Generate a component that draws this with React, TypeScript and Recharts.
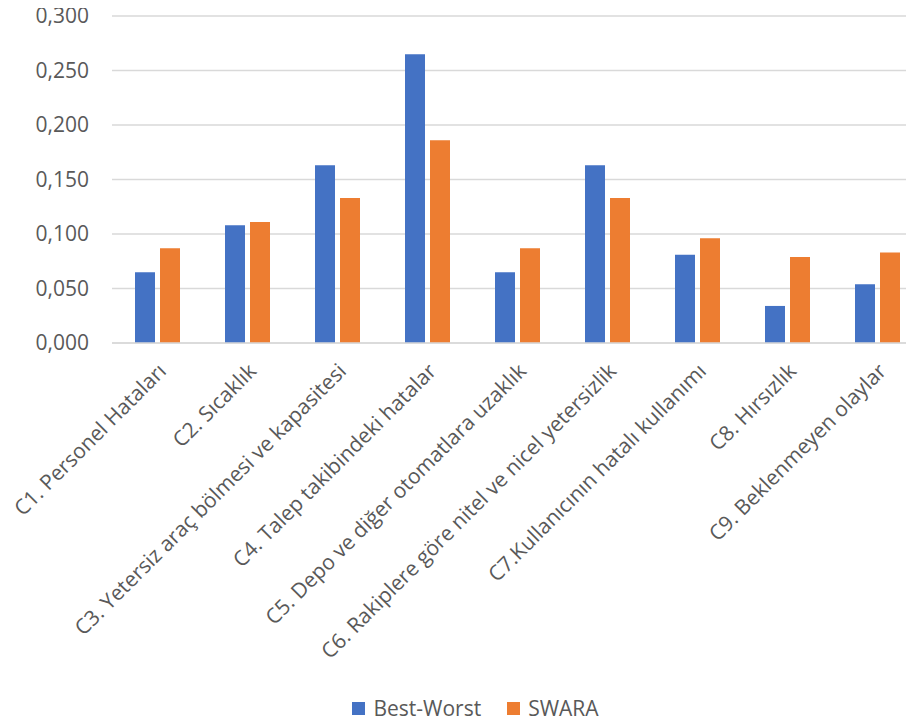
import { BarChart, Bar, XAxis, YAxis, CartesianGrid, Legend } from "recharts";

const categories = [
    "C1. Personel Hataları",
    "C2. Sıcaklık",
    "C3. Yetersiz araç bölmesi ve kapasitesi",
    "C4. Talep takibindeki hatalar",
    "C5. Depo ve diğer otomatlara uzaklık",
    "C6. Rakiplere göre nitel ve nicel yetersizlik",
    "C7.Kullanıcının hatalı kullanımı",
    "C8. Hırsızlık",
    "C9. Beklenmeyen olaylar",
];

const bestWorst = [0.065, 0.108, 0.163, 0.265, 0.065, 0.163, 0.081, 0.034, 0.054];
const swara = [0.087, 0.111, 0.133, 0.186, 0.087, 0.133, 0.096, 0.079, 0.083];

const yTicks = [0, 0.05, 0.1, 0.15, 0.2, 0.25, 0.3];

const chartData = categories.map((name, i) => ({
    name,
    bw: bestWorst[i],
    swara: swara[i],
}));

const FONT = "'Open Sans', 'Segoe UI', sans-serif";
const TEXT = "#595959";

const legendItems = [
    { label: "Best-Worst", color: "#4472C4" },
    { label: "SWARA", color: "#ED7D31" },
];

function LegendBox() {
    return (
        <div style={{ display: "flex", justifyContent: "center", alignItems: "center", height: 28, paddingLeft: 29, fontFamily: FONT, fontSize: 21, color: TEXT }}>
            {legendItems.map((item, i) => (
                <div key={i} style={{ display: "flex", alignItems: "center", marginRight: i === 0 ? 26 : 0 }}>
                    <span style={{ display: "inline-block", width: 13, height: 13, backgroundColor: item.color, marginRight: 8 }}></span>
                    <span>{item.label}</span>
                </div>
            ))}
        </div>
    );
}

export default function App() {
    // shift the chart over the body margin so chart coords = page coords
    return (
        <div style={{ width: 914, height: 722, overflow: "hidden", margin: "-8px 0 0 -8px" }}>
            <BarChart
                width={922}
                height={722}
                data={chartData}
                margin={{ top: 16, right: 0, left: 0, bottom: 0 }}
                barSize={20}
                barGap={5}
            >
                <CartesianGrid vertical={false} stroke="#D9D9D9" strokeWidth={1.5} />
                <XAxis
                    dataKey="name"
                    interval={0}
                    height={351}
                    angle={-45}
                    textAnchor="end"
                    tickLine={false}
                    axisLine={{ stroke: "#D9D9D9", strokeWidth: 1.5 }}
                    tickMargin={13}
                    tick={{ fill: TEXT, fontSize: 21, fontFamily: FONT }}
                />
                <YAxis
                    width={112}
                    domain={[0, 0.3]}
                    ticks={yTicks}
                    interval={0}
                    axisLine={false}
                    tickLine={false}
                    tickMargin={17}
                    tickFormatter={(v: number) => v.toFixed(3).replace(".", ",")}
                    tick={{ fill: TEXT, fontSize: 21, fontFamily: FONT }}
                />
                <Legend verticalAlign="bottom" content={() => <LegendBox />} />
                <Bar dataKey="bw" name="Best-Worst" fill="#4472C4" isAnimationActive={false} />
                <Bar dataKey="swara" name="SWARA" fill="#ED7D31" isAnimationActive={false} />
            </BarChart>
        </div>
    );
}
